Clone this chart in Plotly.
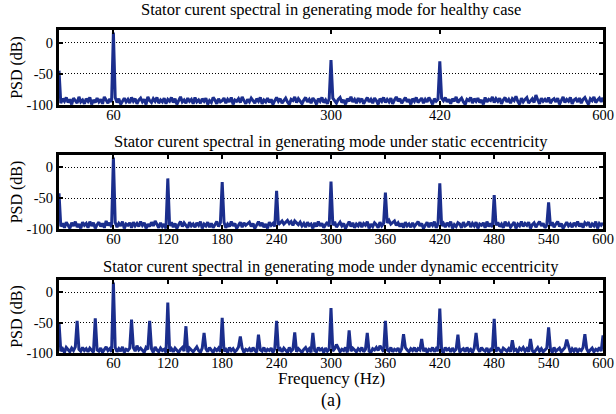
import numpy as np
import plotly.graph_objects as go

# Frequency grid of the PSD estimate (Hz), 2 Hz bins
freq = np.arange(0, 601, 2)

# Background noise floor (dB) for each operating case, one row per 30 Hz
floor_healthy = [
    -45, -97, -90, -94, -88, -96, -91, -99, -89, -93, -97, -87, -95, -92, -98,
    -90, -94, -88, -99, -92, -96, -89, -95, -91, -98, -87, -93, -97, -90, -95,
    -92, -88, -96, -90, -99, -93, -89, -95, -91, -97, -88, -94, -90, -98, -92,
    -89, -95, -91, -99, -87, -93, -96, -90, -94, -88, -97, -92, -95, -89, -98,
    -91, -94, -88, -96, -90, -99, -93, -87, -95, -92, -97, -89, -94, -91, -98,
    -88, -95, -92, -97, -90, -94, -89, -99, -93, -96, -88, -92, -98, -90, -95,
    -93, -89, -97, -91, -95, -88, -99, -92, -94, -90, -96, -87, -93, -98, -91,
    -95, -89, -93, -97, -90, -94, -88, -98, -92, -95, -89, -96, -91, -99, -93,
    -88, -94, -90, -97, -92, -89, -95, -99, -91, -93, -87, -96, -90, -94, -98,
    -92, -88, -95, -91, -97, -89, -93, -99, -90, -94, -88, -96, -92, -98, -90,
    -95, -89, -93, -97, -91, -88, -96, -92, -99, -90, -94, -87, -95, -91, -97,
    -89, -94, -90, -98, -92, -88, -95, -91, -97, -89, -93, -99, -90, -94, -88,
    -96, -91, -95, -89, -98, -92, -87, -94, -90, -97, -93, -88, -95, -91, -99,
    -90, -94, -88, -96, -92, -89, -97, -91, -95, -88, -93, -99, -90, -94, -91,
    -97, -89, -93, -88, -95, -91, -98, -90, -94, -87, -96, -92, -89, -95, -99,
    -91, -93, -88, -97, -90, -94, -89, -96, -92, -99, -88, -95, -91, -93, -87,
    -96, -90, -94, -89, -98, -92, -88, -95, -91, -97, -90, -93, -86, -94, -99,
    -89, -95, -91, -88, -97, -93, -90, -96, -84, -92, -98, -89, -94, -91, -95,
    -88, -97, -92, -90, -95, -89, -99, -93, -87, -96, -91, -94, -88, -98, -92,
    -90, -95, -89, -97, -91, -88, -94, -99, -90, -93, -87, -96, -92, -89, -95,
    -88,
]

floor_static = [
    -42, -96, -91, -98, -89, -94, -99, -90, -95, -88, -97, -92, -99, -89, -94,
    -91, -98, -88, -95, -90, -99, -93, -89, -96, -91, -98, -87, -94, -90, -97,
    -93, -89, -97, -91, -95, -88, -99, -92, -94, -90, -98, -89, -95, -91, -96,
    -88, -94, -90, -99, -92, -96, -89, -95, -87, -93, -98, -90, -96, -92, -99,
    -90, -95, -89, -97, -91, -99, -93, -88, -96, -90, -94, -98, -89, -95, -92,
    -97, -90, -94, -88, -99, -92, -95, -89, -97, -91, -98, -93, -88, -96, -90,
    -94, -89, -98, -92, -96, -88, -95, -91, -99, -93, -89, -97, -90, -94, -92,
    -89, -96, -91, -99, -93, -88, -95, -90, -97, -92, -99, -89, -94, -91, -96,
    -88, -93, -90, -87, -92, -89, -86, -91, -88, -94, -87, -90, -93, -89, -95,
    -91, -97, -89, -94, -92, -99, -90, -96, -88, -95, -91, -98, -93, -89, -96,
    -90, -94, -88, -97, -92, -89, -95, -91, -99, -93, -88, -96, -90, -98, -92,
    -95, -89, -97, -91, -94, -88, -99, -92, -96, -90, -93, -98, -89, -95, -91,
    -88, -90, -86, -92, -89, -87, -94, -90, -96, -91, -98, -89, -95, -92, -97,
    -90, -96, -92, -88, -95, -91, -99, -93, -89, -97, -90, -94, -88, -98, -92,
    -89, -95, -91, -97, -90, -94, -88, -99, -93, -96, -90, -92, -98, -89, -95,
    -93, -88, -97, -91, -95, -89, -99, -92, -94, -90, -98, -88, -96, -91, -97,
    -90, -94, -89, -96, -92, -98, -88, -95, -91, -97, -93, -89, -99, -92, -95,
    -88, -96, -91, -94, -89, -99, -93, -90, -97, -92, -88, -95, -91, -98, -94,
    -90, -95, -89, -97, -92, -88, -96, -91, -99, -93, -89, -95, -92, -97, -90,
    -94, -88, -96, -91, -98, -90, -93, -89, -97, -92, -95, -88, -99, -91, -94,
    -90,
]

floor_dynamic = [
    -50, -97, -93, -99, -91, -95, -98, -92, -96, -90, -99, -94, -97, -91, -96,
    -93, -98, -92, -96, -99, -91, -95, -97, -92, -99, -94, -90, -96, -93, -98,
    -95, -91, -98, -93, -97, -90, -99, -94, -96, -92, -98, -91, -97, -88, -95,
    -92, -96, -99, -91, -94, -97, -93, -99, -90, -95, -98, -92, -96, -94, -99,
    -91, -97, -93, -98, -92, -96, -99, -94, -91, -97, -93, -99, -92, -95, -98,
    -94, -90, -96, -99, -92, -97, -93, -98, -91, -95, -99, -93, -96, -92, -98,
    -92, -97, -94, -99, -91, -96, -93, -98, -95, -90, -97, -92, -99, -94, -96,
    -93, -98, -91, -96, -99, -92, -95, -97, -91, -98, -94, -96, -92, -99, -93,
    -90, -96, -93, -98, -92, -95, -99, -91, -97, -94, -92, -98, -93, -96, -99,
    -94, -91, -97, -93, -99, -92, -96, -98, -91, -95, -93, -99, -92, -97, -94,
    -91, -97, -93, -86, -92, -98, -94, -96, -91, -99, -93, -97, -92, -95, -98,
    -93, -96, -91, -98, -94, -92, -97, -99, -93, -95, -91, -96, -88, -94, -98,
    -92, -95, -97, -91, -98, -94, -96, -92, -99, -93, -97, -91, -95, -98, -93,
    -96, -91, -98, -93, -95, -87, -97, -92, -99, -94, -96, -91, -98, -93, -97,
    -92, -96, -99, -91, -95, -93, -98, -92, -97, -94, -91, -99, -95, -93, -98,
    -91, -97, -94, -99, -92, -96, -93, -98, -91, -95, -97, -92, -99, -94, -96,
    -93, -98, -91, -96, -99, -92, -95, -97, -93, -98, -91, -96, -94, -99, -92,
    -95, -91, -97, -93, -98, -92, -96, -99, -94, -91, -97, -93, -98, -95, -92,
    -96, -93, -99, -91, -97, -94, -92, -98, -95, -91, -96, -88, -99, -93, -97,
    -92, -98, -94, -96, -91, -97, -93, -99, -95, -92, -98, -94, -96, -91, -97,
    -72,
]

# Spectral lines (Hz, dB) rising above the floor
peaks_healthy = [(60, 16), (300, -28), (420, -30)]
peaks_static = [(60, 16), (120, -18), (180, -24), (240, -38), (300, -23),
                (360, -41), (420, -26), (480, -45), (540, -57)]
peaks_dynamic = [(20, -47), (40, -43), (60, 16), (80, -45), (100, -47),
                 (120, -17), (140, -56), (160, -67), (180, -42), (200, -73),
                 (220, -70), (240, -47), (260, -66), (280, -67), (300, -26),
                 (320, -63), (340, -67), (360, -47), (380, -69), (400, -77),
                 (420, -27), (440, -70), (460, -67), (480, -44), (500, -79),
                 (520, -77), (540, -58), (560, -78), (580, -69), (600, -71)]

titles = [
    "Stator curent spectral in generating mode for healthy case",
    "Stator curent spectral in generating mode under static eccentricity",
    "Stator curent spectral in generating mode under dynamic eccentricity",
]
xticks_healthy = [60, 300, 420, 600]
xticks_full = [60, 120, 180, 240, 300, 360, 420, 480, 540, 600]
yticks = [0, -50, -100]


def spectrum(floor, peaks):
    psd = np.array(floor, dtype=float)
    assert psd.size == freq.size
    for f, level in peaks:
        psd[np.searchsorted(freq, f)] = level
    return psd


series = [
    spectrum(floor_healthy, peaks_healthy),
    spectrum(floor_static, peaks_static),
    spectrum(floor_dynamic, peaks_dynamic),
]
xtick_sets = [xticks_healthy, xticks_full, xticks_full]

W, H = 616, 414
ML, MR, MT, MB = 59, 13, 30, 61
plot_h = H - MT - MB
# panel tops/bottoms in pixels from the top of the page
panels_px = [(30, 105), (155, 229), (280, 353)]
domains = [[(H - MB - b) / plot_h, (H - MB - t) / plot_h] for t, b in panels_px]
title_shift = [21, 14, 14]
label_lift = 1  # frequency labels sit tight under the frame

FONT = "Liberation Serif"
LINE = "rgb(27,46,141)"

fig = go.Figure()
layout = dict(
    width=W, height=H,
    margin=dict(l=ML, r=MR, t=MT, b=MB, pad=0),
    paper_bgcolor="white", plot_bgcolor="white",
    showlegend=False,
    font=dict(family=FONT, size=14, color="black"),
)
annotations = []
for k in range(3):
    sfx = "" if k == 0 else str(k + 1)
    lab = str(k + 4)
    fig.add_trace(go.Scatter(
        x=freq, y=series[k], mode="lines",
        line=dict(color=LINE, width=3),
        xaxis="x" + sfx, yaxis="y" + sfx, hoverinfo="skip",
    ))
    # empty trace carrying the frequency tick-label axis
    fig.add_trace(go.Scatter(
        x=[], y=[], mode="lines", xaxis="x" + lab, yaxis="y" + sfx,
        hoverinfo="skip",
    ))
    layout["xaxis" + sfx] = dict(
        domain=[0, 1], anchor="y" + sfx, range=[0, 600],
        tickmode="array", tickvals=xtick_sets[k],
        ticks="inside", ticklen=4, tickwidth=2, tickcolor="black",
        showline=True, linecolor="black", linewidth=3, mirror="ticks",
        showgrid=False, zeroline=False, automargin=False,
        showticklabels=False,
    )
    layout["xaxis" + lab] = dict(
        overlaying="x" + sfx, anchor="free",
        position=domains[k][0] + label_lift / plot_h,
        range=[0, 600], tickmode="array", tickvals=xtick_sets[k],
        ticktext=[str(v) for v in xtick_sets[k]],
        ticks="", showline=False, showgrid=False, zeroline=False,
        automargin=False, tickfont=dict(family=FONT, size=14.5),
    )
    layout["yaxis" + sfx] = dict(
        domain=domains[k], anchor="x" + sfx, range=[-100, 20],
        tickmode="array", tickvals=yticks,
        ticktext=[str(v) for v in yticks],
        ticks="inside", ticklen=4, tickwidth=2, tickcolor="black",
        showline=True, linecolor="black", linewidth=3, mirror="ticks",
        showgrid=True, gridcolor="black", gridwidth=1, griddash="1px,2px",
        zeroline=False, automargin=False,
        tickfont=dict(family=FONT, size=14.5),
        title=dict(text="PSD (dB)", standoff=0, font=dict(family=FONT, size=16)),
    )
    annotations.append(dict(
        text=titles[k], xref="paper", yref="paper", x=0.5, y=domains[k][1],
        yshift=title_shift[k], xanchor="center", yanchor="middle",
        showarrow=False, font=dict(family=FONT, size=16.5),
    ))

annotations.append(dict(
    text="Frequency (Hz)", xref="paper", yref="paper", x=0.5, y=0,
    yshift=-25, xanchor="center", yanchor="middle", showarrow=False,
    font=dict(family=FONT, size=17),
))
annotations.append(dict(
    text="(a)", xref="paper", yref="paper", x=0.5, y=0,
    yshift=-47, xanchor="center", yanchor="middle", showarrow=False,
    font=dict(family=FONT, size=18),
))
layout["annotations"] = annotations
fig.update_layout(**layout)
fig.write_html("out.html")
